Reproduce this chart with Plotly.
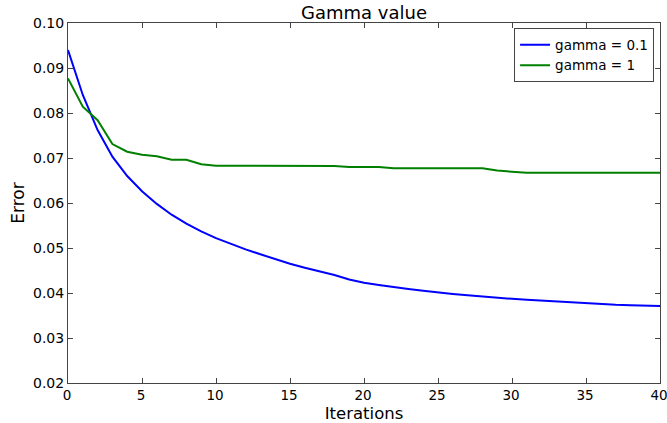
import plotly.graph_objects as go

iterations = list(range(41))

error_gamma_01 = [
    0.0940, 0.0840, 0.0762, 0.0703, 0.0660, 0.0626, 0.0598, 0.0574, 0.0554, 0.0537,
    0.0522, 0.0509, 0.0497, 0.0486, 0.0475, 0.0465, 0.0456, 0.0448, 0.0440, 0.0430,
    0.0423, 0.0418, 0.0413, 0.0409, 0.0405, 0.0401, 0.0398, 0.0395, 0.0392, 0.0389,
    0.0387, 0.0385, 0.0383, 0.0381, 0.0379, 0.0377, 0.0376, 0.0374, 0.0373, 0.0372,
    0.0371,
]

error_gamma_1 = [
    0.0877, 0.0814, 0.0784, 0.0731, 0.0714, 0.0707, 0.0704, 0.0696, 0.0696, 0.0686,
    0.0683, 0.0683, 0.0683, 0.0683, 0.0683, 0.0683, 0.0683, 0.0683, 0.0682, 0.0680,
    0.0680, 0.0680, 0.0677, 0.0677, 0.0677, 0.0677, 0.0677, 0.0677, 0.0677, 0.0672,
    0.0670, 0.0667, 0.0667, 0.0667, 0.0667, 0.0667, 0.0667, 0.0667, 0.0667, 0.0667,
    0.0667,
]

x_ticks = [0, 5, 10, 15, 20, 25, 30, 35, 40]
y_ticks = [0.02, 0.03, 0.04, 0.05, 0.06, 0.07, 0.08, 0.09, 0.10]
y_tick_labels = ["%.2f" % v for v in y_ticks]

font_family = "DejaVu Sans"
frame_color = "#444444"

fig = go.Figure()
fig.add_trace(go.Scatter(x=iterations, y=error_gamma_01, mode="lines",
                         name="gamma = 0.1", line=dict(color="#0000ff", width=2)))
fig.add_trace(go.Scatter(x=iterations, y=error_gamma_1, mode="lines",
                         name="gamma = 1", line=dict(color="#008000", width=2)))

axis_common = dict(
    showgrid=False, zeroline=False, showline=True, linecolor=frame_color, linewidth=1,
    mirror="ticks", ticks="inside", ticklen=5, tickcolor=frame_color,
    automargin=False, ticklabeloverflow="allow",
)

fig.update_layout(
    width=667, height=423,
    margin=dict(l=68, r=7, t=23, b=40),
    paper_bgcolor="white", plot_bgcolor="white",
    font=dict(family=font_family, color="black"),
    title=dict(text="Gamma value", xref="paper", x=0.5, xanchor="center",
               yref="container", y=0.97, yanchor="middle",
               font=dict(family=font_family, size=18, color="black")),
    xaxis=dict(range=[0, 40], tickvals=x_ticks, ticklabelshift=-1,
               tickfont=dict(family=font_family, size=13.5, color="black"),
               title=dict(text="Iterations", font=dict(size=16.5), standoff=5),
               **axis_common),
    yaxis=dict(range=[0.02, 0.10], tickvals=y_ticks, ticktext=y_tick_labels,
               tickfont=dict(family=font_family, size=14, color="black"),
               title=dict(text="Error", font=dict(size=17), standoff=4),
               **axis_common),
    legend=dict(x=0.99, y=0.985, xanchor="right", yanchor="top",
                bordercolor=frame_color, borderwidth=1, bgcolor="white",
                font=dict(family=font_family, size=13.5, color="black"),
                tracegroupgap=0),
    showlegend=True,
)

fig.write_html("out.html")
